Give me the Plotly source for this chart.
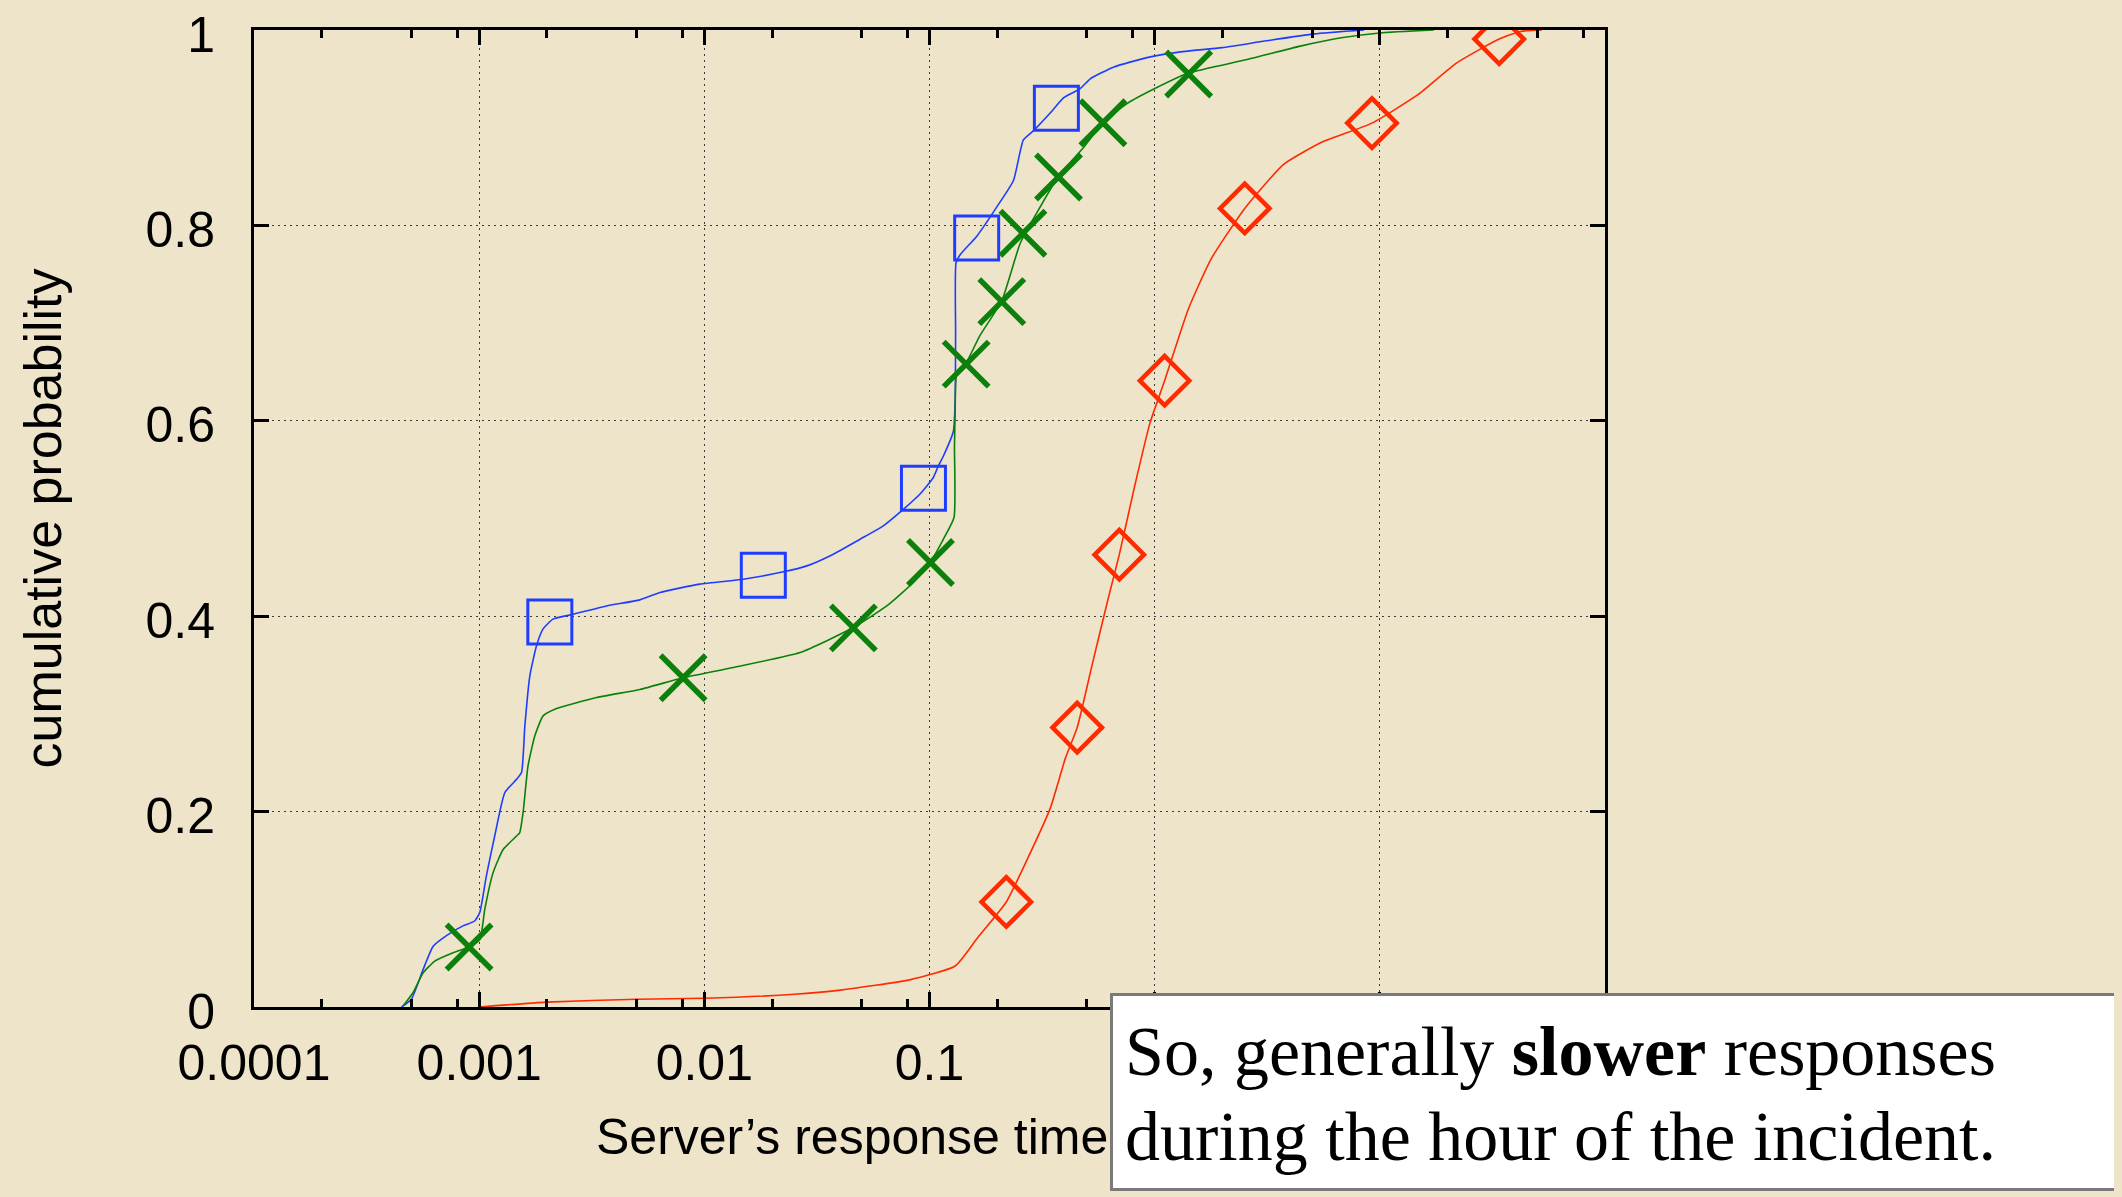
import plotly.graph_objects as go

# ---------------- data ----------------
# x values are response times in seconds, y values cumulative probability
blue_x = [0.000452, 0.000500, 0.000564, 0.000624, 0.000716, 0.000847, 0.000955, 0.001007,
          0.001076, 0.001172, 0.001300, 0.001466, 0.001542, 0.001596, 0.001679, 0.001799,
          0.001923, 0.002128, 0.002612, 0.003681, 0.005176, 0.006353, 0.009550, 0.01489,
          0.02244, 0.02851, 0.03741, 0.04920, 0.06237, 0.07534, 0.09078, 0.1040, 0.1096,
          0.1153, 0.1276, 0.1300, 0.1306, 0.1312, 0.1368, 0.1622, 0.1991, 0.2360, 0.2612,
          0.2897, 0.3436, 0.3936, 0.4667, 0.5176, 0.6561, 0.9247, 1.300, 1.995, 3.083,
          5.129, 8.511]
blue_y = [0.0, 0.008, 0.0385, 0.062, 0.073, 0.083, 0.088, 0.097,
          0.134, 0.175, 0.2195, 0.233, 0.240, 0.288, 0.339, 0.370,
          0.387, 0.397, 0.402, 0.4105, 0.4167, 0.4243, 0.4328, 0.4379,
          0.4454, 0.4515, 0.4635, 0.4788, 0.4925, 0.508, 0.525, 0.542, 0.554,
          0.564, 0.589, 0.62, 0.69, 0.762, 0.770, 0.789, 0.819, 0.846, 0.8875,
          0.897, 0.915, 0.9306, 0.940, 0.950, 0.962, 0.9717, 0.9776, 0.982, 0.9887,
          0.996, 1.0]

green_x = [0.000459, 0.000508, 0.000564, 0.000635, 0.000766, 0.000902, 0.001007, 0.001059,
           0.001153, 0.001276, 0.001466, 0.001514, 0.001567, 0.001648, 0.001766, 0.001923,
           0.002168, 0.003319, 0.005176, 0.008054, 0.01343, 0.02661, 0.04592, 0.06457,
           0.08472, 0.1007, 0.1153, 0.1285, 0.1291, 0.1300, 0.1321, 0.1455, 0.1679,
           0.2094, 0.2529, 0.2999, 0.3741, 0.4831, 0.5888, 0.7534, 1.007, 1.416, 2.570,
           4.436, 6.745, 10.0, 17.38]
green_y = [0.001, 0.0146, 0.035, 0.047, 0.0556, 0.0614, 0.069, 0.100,
           0.1375, 0.161, 0.175, 0.1785, 0.199, 0.2467, 0.2774, 0.298,
           0.3048, 0.3167, 0.325, 0.337, 0.3475, 0.3628, 0.3884, 0.4105,
           0.4345, 0.455, 0.479, 0.501, 0.5744, 0.609, 0.6485, 0.6594, 0.6876,
           0.7229, 0.7817, 0.813, 0.8503, 0.8797, 0.905, 0.9247, 0.9404, 0.956, 0.9698,
           0.9835, 0.992, 0.997, 1.0]

red_x = [0.001, 0.001995, 0.005012, 0.01, 0.02512, 0.04018, 0.08241, 0.1300, 0.1633,
         0.2193, 0.2723, 0.3436, 0.4018, 0.4529, 0.5297, 0.6194, 0.6966, 0.8147,
         0.9528, 1.107, 1.409, 1.782, 2.512, 3.750, 5.546, 9.226, 14.76, 21.88,
         33.88, 42.17, 52.48]
red_y = [0.0, 0.005, 0.008, 0.009, 0.013, 0.0173, 0.028, 0.042, 0.0707,
         0.1075, 0.1516, 0.2033, 0.255, 0.286, 0.352, 0.4166, 0.463, 0.533,
         0.5976, 0.641, 0.714, 0.7657, 0.8174, 0.8627, 0.8853, 0.9047, 0.9338, 0.9661,
         0.9907, 0.9985, 1.0]

# point markers placed along each curve
blue_mx = [0.00206, 0.01828, 0.0940, 0.162, 0.366]
blue_my = [0.394, 0.442, 0.531, 0.787, 0.920]
green_mx = [0.000902, 0.00805, 0.0459, 0.101, 0.1455, 0.2094, 0.260, 0.374, 0.589, 1.416]
green_my = [0.0614, 0.337, 0.388, 0.455, 0.658, 0.722, 0.792, 0.8495, 0.905, 0.955]
red_mx = [0.2193, 0.4529, 0.6966, 1.107, 2.512, 9.226, 33.88]
red_my = [0.1075, 0.286, 0.463, 0.641, 0.8174, 0.9047, 0.9907]

x_tick_vals = [0.0001, 0.001, 0.01, 0.1, 1, 10, 100]
# the labels of 1, 10 and 100 are hidden under the note box in the reference
x_tick_text = ["0.0001", "0.001", "0.01", "0.1", "", "", ""]
x_minor_vals = [m * d for d in [0.0001, 0.001, 0.01, 0.1, 1, 10] for m in (2, 5, 8)]
y_tick_vals = [0, 0.2, 0.4, 0.6, 0.8, 1.0]
y_tick_text = ["0", "0.2", "0.4", "0.6", "0.8", "1"]

x_title = "Server’s response time"
y_title = "cumulative probability"
note_line1 = "So, generally <b>slower</b> responses"
note_line2 = "during the hour of the incident."

# ---------------- style ----------------
BG = "#EEE4C9"
BLUE = "#1F3DFF"
GREEN = "#0B800B"
RED = "#FF2A00"
SANS = "Liberation Sans, Arial, Helvetica, sans-serif"
SERIF = "Liberation Serif, Times New Roman, serif"

fig = go.Figure()

for xs, ys, col in [(blue_x, blue_y, BLUE), (green_x, green_y, GREEN), (red_x, red_y, RED)]:
    fig.add_trace(go.Scatter(x=xs, y=ys, mode="lines",
                             line=dict(color=col, width=1.6, shape="spline", smoothing=0.5),
                             hoverinfo="skip"))

fig.add_trace(go.Scatter(x=blue_mx, y=blue_my, mode="markers",
                         marker=dict(symbol="square-open", size=44, color=BLUE,
                                     line=dict(color=BLUE, width=3))))
fig.add_trace(go.Scatter(x=green_mx, y=green_my, mode="markers",
                         marker=dict(symbol="x-thin-open", size=45, color=GREEN,
                                     line=dict(color=GREEN, width=5.5))))
fig.add_trace(go.Scatter(x=red_mx, y=red_my, mode="markers",
                         marker=dict(symbol="diamond-open", size=38, color=RED,
                                     line=dict(color=RED, width=4.5))))

axis_common = dict(showline=True, linecolor="black", linewidth=3, mirror="allticks",
                   ticks="inside", tickcolor="black", tickwidth=3, ticklen=15,
                   showgrid=True, gridcolor="#3a3a3a", gridwidth=1.4, griddash="2px,4px",
                   zeroline=False, automargin=False, ticklabeloverflow="allow",
                   tickfont=dict(family=SANS, size=50, color="black"))

fig.update_xaxes(type="log", range=[-4, 2], tickmode="array", tickvals=x_tick_vals,
                 ticktext=x_tick_text, ticklabelstandoff=10,
                 minor=dict(tickmode="array", tickvals=x_minor_vals, ticks="inside",
                            ticklen=8, tickwidth=2.5, tickcolor="black", showgrid=False),
                 **axis_common)
fig.update_yaxes(range=[0, 1], tickmode="array", tickvals=y_tick_vals, ticktext=y_tick_text,
                 ticklabelstandoff=26, ticklabelshift=4, **axis_common)

annotations = [
    dict(text=y_title, xref="paper", yref="paper", x=-0.1562, y=0.5, textangle=-90,
         xanchor="center", yanchor="middle", showarrow=False,
         font=dict(family=SANS, size=52, color="black")),
    dict(text=x_title, xref="paper", yref="paper", x=0.2517, y=-0.1331,
         xanchor="left", yanchor="middle", showarrow=False,
         font=dict(family=SANS, size=50, color="black")),
    dict(text="\u00a0", xref="paper", yref="paper", x=0.6336, y=0.01433,
         xanchor="left", yanchor="top", showarrow=False, width=1003, height=192,
         bgcolor="white", bordercolor="#7a7a7a", borderwidth=3, borderpad=0,
         font=dict(family=SERIF, size=20)),
    dict(text=note_line1, xref="paper", yref="paper", x=0.6432, y=-0.0454,
         xanchor="left", yanchor="middle", showarrow=False,
         font=dict(family=SERIF, size=70, color="black")),
    dict(text=note_line2, xref="paper", yref="paper", x=0.6432, y=-0.1324,
         xanchor="left", yanchor="middle", showarrow=False,
         font=dict(family=SERIF, size=70, color="black")),
]

# the page puts the figure 8px in from the top-left corner, so the figure is
# 8px smaller and its margins 8px less to keep the plot where it sits in the reference
fig.update_layout(width=2114, height=1189, autosize=False,
                  margin=dict(l=246, r=517, t=22, b=190, pad=0),
                  paper_bgcolor=BG, plot_bgcolor=BG, showlegend=False,
                  annotations=annotations)

fig.write_html("out.html",
               post_script="document.body.style.background='%s';" % BG)
